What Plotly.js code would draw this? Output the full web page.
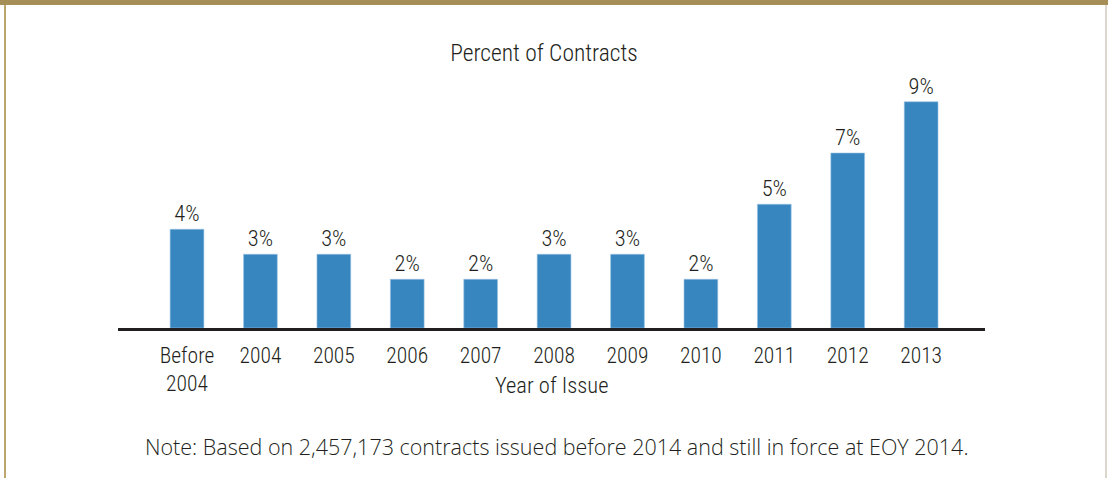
<!DOCTYPE html>
<html>
<head>
<meta charset="utf-8">
<script src="https://cdn.plot.ly/plotly-3.0.1.min.js"></script>
<style>
  html, body { margin: 0; padding: 0; background: #fff; }
  #wrap { position: relative; width: 1108px; height: 478px; overflow: hidden; }
  #chart { position: absolute; left: 0; top: 0; width: 1108px; height: 478px; }
  .b { position: absolute; pointer-events: none; }
</style>
</head>
<body>
<div id="wrap">
  <div id="chart"></div>
  <div class="b" style="left:0;top:0;width:1108px;height:5px;background:#a58f56;"></div>
  <div class="b" style="left:4px;top:5px;width:2px;height:473px;background:#bba66e;"></div>
  <div class="b" style="left:1105px;top:5px;width:2px;height:473px;background:#ddd6cd;"></div>
</div>
<script>
const categories = ["Before<br>2004", "2004", "2005", "2006", "2007", "2008", "2009", "2010", "2011", "2012", "2013"];
const percentValues = [3.95, 2.95, 2.95, 1.95, 1.95, 2.95, 2.95, 1.95, 4.95, 7.0, 9.05];
const valueLabels = ["4%", "3%", "3%", "2%", "2%", "3%", "3%", "2%", "5%", "7%", "9%"];

const FONT = '"Roboto Condensed", "DejaVu Sans Condensed", sans-serif';
const NOTE_FONT = '"Open Sans", "Noto Sans", sans-serif';
const INK = '#231f20';

const trace = {
  type: 'bar',
  x: categories,
  y: percentValues,
  text: valueLabels,
  texttemplate: '%{text}',
  textposition: 'outside',
  cliponaxis: false,
  textfont: { family: FONT, size: 22.5, color: INK, weight: 300 },
  marker: { color: '#3786c0', line: { color: '#9cc4e4', width: 0.6 } },
  width: 0.46,
  hoverinfo: 'skip'
};

const layout = {
  width: 1108,
  height: 478,
  margin: { l: 118, r: 123, t: 78, b: 150 },
  paper_bgcolor: '#ffffff',
  plot_bgcolor: '#ffffff',
  showlegend: false,
  font: { family: FONT, color: INK },
  title: {
    text: 'Percent of Contracts',
    font: { family: FONT, size: 23.5, color: INK, weight: 300 },
    x: (544 - 118) / (985 - 118), xref: 'paper', xanchor: 'center',
    y: 1 - 53 / 478, yref: 'container', yanchor: 'middle'
  },
  xaxis: {
    type: 'category',
    range: [-0.94, 10.87],
    showline: true,
    linecolor: INK,
    linewidth: 2.5,
    showgrid: false,
    zeroline: false,
    ticks: 'outside',
    ticklen: 7,
    tickcolor: 'rgba(0,0,0,0)',
    tickfont: { family: FONT, size: 21.5, color: INK, weight: 300 },
    fixedrange: true
  },
  yaxis: {
    range: [0, 10],
    visible: false,
    showgrid: false,
    zeroline: false,
    fixedrange: true
  },
  annotations: [
    {
      text: 'Year of Issue',
      xref: 'paper', yref: 'paper',
      x: (551 - 118) / (985 - 118), y: -(385 - 328) / (328 - 78),
      xanchor: 'center', yanchor: 'middle',
      showarrow: false,
      font: { family: FONT, size: 22.5, color: INK, weight: 300 }
    },
    {
      text: 'Note: Based on 2,457,173 contracts issued before 2014 and still in force at EOY 2014.',
      xref: 'paper', yref: 'paper',
      x: (557 - 118) / (985 - 118), y: -(446 - 328) / (328 - 78),
      xanchor: 'center', yanchor: 'middle',
      showarrow: false,
      font: { family: NOTE_FONT, size: 21.5, color: INK, weight: 300 }
    }
  ]
};

Plotly.newPlot('chart', [trace], layout, { displayModeBar: false, staticPlot: true });
</script>
</body>
</html>
